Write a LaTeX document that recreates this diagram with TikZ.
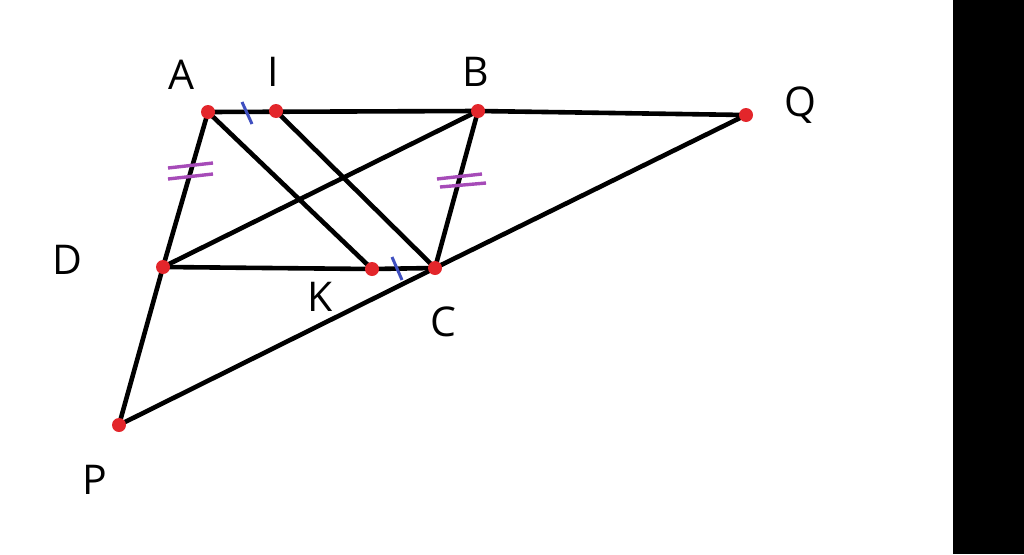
\documentclass[tikz,border=0pt]{standalone}
\usepackage{fontspec}
\setmainfont{Open Sans}
\definecolor{tblue}{HTML}{3F4FC0}
\definecolor{tpurp}{HTML}{A64BB8}
\definecolor{dotred}{HTML}{E3262B}
\begin{document}
\begin{tikzpicture}[x=1pt,y=-1pt,
  seg/.style={line width=4.6pt,line cap=round},
  pt/.style={circle,fill=dotred,inner sep=0pt,minimum size=14pt},
  lbl/.style={font=\fontsize{41}{44}\selectfont,inner sep=0pt},
  tickb/.style={draw=tblue,line width=3pt},
  tickp/.style={draw=tpurp,line width=3.4pt}]
\useasboundingbox (0,0) rectangle (1024,554);
\fill[black] (953,0) rectangle (1024,554);
% points
\coordinate (A) at (208,112);
\coordinate (I) at (276,111);
\coordinate (B) at (478,111);
\coordinate (Q) at (746,115);
\coordinate (D) at (163,267);
\coordinate (K) at (372,269);
\coordinate (C) at (435,268);
\coordinate (P) at (119,425);
% segments
\draw[seg] (A) -- (B) -- (Q);
\draw[seg] (A) -- (D) -- (P);
\draw[seg] (P) -- (C) -- (Q);
\draw[seg] (D) -- (K) -- (C);
\draw[seg] (B) -- (C);
\draw[seg] (D) -- (B);
\draw[seg] (A) -- (K);
\draw[seg] (I) -- (C);
% ticks
\draw[tickb] (242,102) -- (252,124);
\draw[tickb] (392,257) -- (402,280);
\draw[tickp] (168,168) -- (213,163);
\draw[tickp] (168,179) -- (213,174);
\draw[tickp] (437,179) -- (482,174);
\draw[tickp] (440,187) -- (486,183);
% dots
\foreach \p in {A,I,B,Q,D,K,C,P} \node[pt] (n\p) at (\p) {};
% labels
\node[lbl] (lA) at (181,75) {A};
\node[lbl] (lI) at (273,72) {I};
\node[lbl] (lB) at (476,72) {B};
\node[lbl] (lQ) at (800,105) {Q};
\node[lbl] (lD) at (67,260) {D};
\node[lbl] (lK) at (320,297) {K};
\node[lbl] (lC) at (443,322) {C};
\node[lbl] (lP) at (95,480) {P};
\end{tikzpicture}
\end{document}
